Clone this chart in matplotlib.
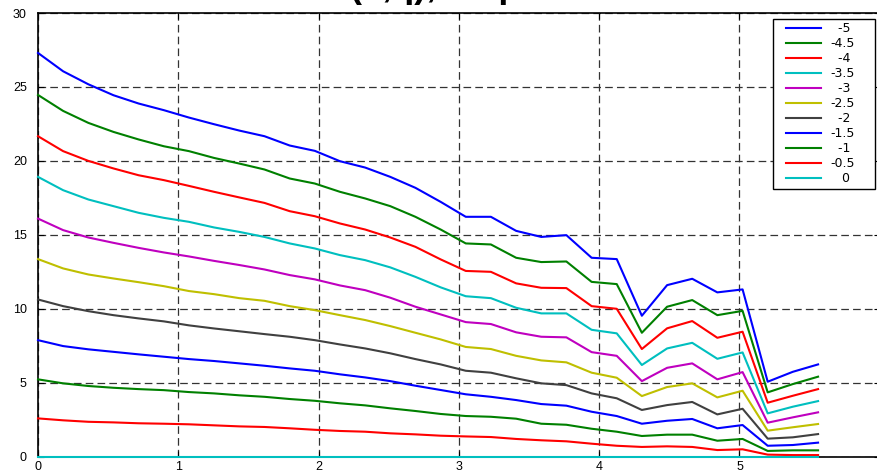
import matplotlib
matplotlib.use("Agg")
import matplotlib.pyplot as plt
from matplotlib.path import Path

plt.rcParams['font.family'] = ['Liberation Sans', 'DejaVu Sans']
plt.rcParams['lines.scale_dashes'] = False

# sample positions
x = [0.000, 0.179, 0.359, 0.538, 0.717, 0.897, 1.076, 1.255, 1.435, 1.614,
     1.794, 1.973, 2.152, 2.332, 2.511, 2.690, 2.870, 3.049, 3.228, 3.408,
     3.587, 3.766, 3.946, 4.125, 4.304, 4.484, 4.663, 4.842, 5.022, 5.201,
     5.380, 5.560]

labels = ['  -5', '-4.5', '  -4', '-3.5', '  -3', '-2.5', '  -2', '-1.5',
          '  -1', '-0.5', '   0']

s_m50 = [27.30, 26.06, 25.18, 24.44, 23.88, 23.43, 22.93, 22.48, 22.05, 21.67,
         21.04, 20.68, 19.98, 19.55, 18.92, 18.18, 17.23, 16.22, 16.22, 15.27,
         14.86, 14.98, 13.45, 13.36, 9.53, 11.60, 12.03, 11.11, 11.31, 5.07,
         5.74, 6.24]
s_m45 = [24.46, 23.38, 22.57, 21.96, 21.45, 20.99, 20.66, 20.20, 19.82, 19.42,
         18.81, 18.47, 17.91, 17.46, 16.94, 16.22, 15.36, 14.42, 14.35, 13.45,
         13.16, 13.20, 11.82, 11.67, 8.38, 10.14, 10.59, 9.57, 9.86, 4.35,
         4.91, 5.41]
s_m40 = [21.67, 20.66, 20.00, 19.49, 19.03, 18.70, 18.31, 17.91, 17.53, 17.16,
         16.60, 16.26, 15.77, 15.36, 14.82, 14.19, 13.34, 12.56, 12.50, 11.72,
         11.42, 11.40, 10.18, 10.00, 7.28, 8.68, 9.17, 8.04, 8.45, 3.65,
         4.12, 4.57]
s_m35 = [18.92, 18.02, 17.39, 16.94, 16.49, 16.15, 15.88, 15.50, 15.20, 14.86,
         14.42, 14.08, 13.63, 13.29, 12.80, 12.16, 11.45, 10.85, 10.72, 10.07,
         9.69, 9.69, 8.58, 8.34, 6.20, 7.32, 7.70, 6.62, 7.05, 2.93,
         3.38, 3.76]
s_m30 = [16.10, 15.32, 14.82, 14.46, 14.12, 13.81, 13.54, 13.24, 12.96, 12.66,
         12.28, 11.99, 11.58, 11.26, 10.75, 10.14, 9.62, 9.10, 8.97, 8.41,
         8.11, 8.07, 7.07, 6.82, 5.11, 6.01, 6.31, 5.23, 5.72, 2.30,
         2.66, 3.00]
s_m25 = [13.36, 12.73, 12.32, 12.05, 11.80, 11.53, 11.20, 10.99, 10.72, 10.54,
         10.18, 9.91, 9.57, 9.24, 8.83, 8.38, 7.93, 7.42, 7.28, 6.82,
         6.51, 6.38, 5.68, 5.34, 4.10, 4.71, 4.96, 4.01, 4.46, 1.76,
         1.99, 2.21]
s_m20 = [10.63, 10.18, 9.84, 9.57, 9.35, 9.15, 8.88, 8.67, 8.48, 8.29,
         8.11, 7.88, 7.59, 7.32, 6.99, 6.60, 6.24, 5.81, 5.68, 5.30,
         4.96, 4.84, 4.28, 3.95, 3.16, 3.49, 3.70, 2.86, 3.24, 1.22,
         1.31, 1.53]
s_m15 = [7.88, 7.48, 7.26, 7.09, 6.92, 6.76, 6.60, 6.47, 6.31, 6.15,
         5.97, 5.81, 5.57, 5.36, 5.11, 4.80, 4.51, 4.22, 4.05, 3.83,
         3.56, 3.45, 3.04, 2.75, 2.23, 2.43, 2.55, 1.92, 2.14, 0.74,
         0.79, 0.95]
s_m10 = [5.23, 4.96, 4.78, 4.66, 4.57, 4.50, 4.37, 4.28, 4.15, 4.05,
         3.90, 3.78, 3.61, 3.47, 3.27, 3.09, 2.89, 2.75, 2.70, 2.57,
         2.23, 2.16, 1.89, 1.69, 1.40, 1.49, 1.49, 1.08, 1.20, 0.39,
         0.43, 0.43]
s_m05 = [2.59, 2.46, 2.36, 2.32, 2.26, 2.23, 2.19, 2.12, 2.05, 2.01,
         1.92, 1.82, 1.74, 1.69, 1.58, 1.51, 1.42, 1.37, 1.33, 1.20,
         1.11, 1.04, 0.88, 0.74, 0.66, 0.70, 0.66, 0.45, 0.50, 0.14,
         0.11, 0.11]
s_000 = [0.0] * 32

series = [s_m50, s_m45, s_m40, s_m35, s_m30, s_m25, s_m20, s_m15, s_m10, s_m05, s_000]

colors = ['#0000ff', '#008000', '#ff0000', '#00bfbf', '#bf00bf', '#bfbf00',
          '#404040', '#0000ff', '#008000', '#ff0000', '#00bfbf']

W, H = 878, 473
fig = plt.figure(figsize=(W / 100, H / 100), dpi=100)
ax = fig.add_axes([38 / W, (H - 456.7) / H, (879.8 - 38) / W, (456.7 - 13) / H])

for ys, c, lab in zip(series, colors, labels):
    ax.plot(x, ys, color=c, lw=1.5, label=lab, clip_on=False, zorder=3)

ax.set_xlim(0, 6)
ax.set_ylim(0, 30)
ax.set_xticks([0, 1, 2, 3, 4, 5, 6])
ax.set_yticks([0, 5, 10, 15, 20, 25, 30])
ax.grid(True, color='#333333', lw=0.9, linestyle=(0, (5.5, 3)))
ax.tick_params(direction='in', length=4, width=0.8, labelsize=9,
               top=True, right=True, pad=3)
ax.tick_params(axis='y', pad=8)
for side in ['left', 'bottom', 'top']:
    ax.spines[side].set_linewidth(1.2)
    ax.spines[side].set_color('black')
ax.spines['right'].set_visible(False)

fs = 9
leg = ax.legend(loc='upper right', bbox_to_anchor=(857.75 / W, 1 - 19.3 / H),
                bbox_transform=fig.transFigure, borderaxespad=0,
                prop={'family': 'DejaVu Sans', 'size': fs},
                fancybox=False, framealpha=1, edgecolor='black',
                handlelength=2.8, handletextpad=0.72, labelspacing=0.16,
                borderpad=0.25)
leg.get_frame().set_linewidth(1.0)
leg.set_zorder(10)


def legend_frame(x0, y0, width, height, mutation_size):
    # frame wider than the packed entries: extra room left and right (pixels)
    left, right = 9.8, 16.9
    return Path([(x0 - left, y0), (x0 + width + right, y0),
                 (x0 + width + right, y0 + height), (x0 - left, y0 + height),
                 (x0 - left, y0)], closed=True)


leg.get_frame().set_boxstyle(legend_frame)

# heading above the plot, mostly outside the canvas
fig.text(350 / W, 1 + 3 / H, '(x,q), amp', fontsize=26, fontweight='bold',
         ha='left', va='baseline', color='black')

fig.savefig('out.png', dpi=100)
